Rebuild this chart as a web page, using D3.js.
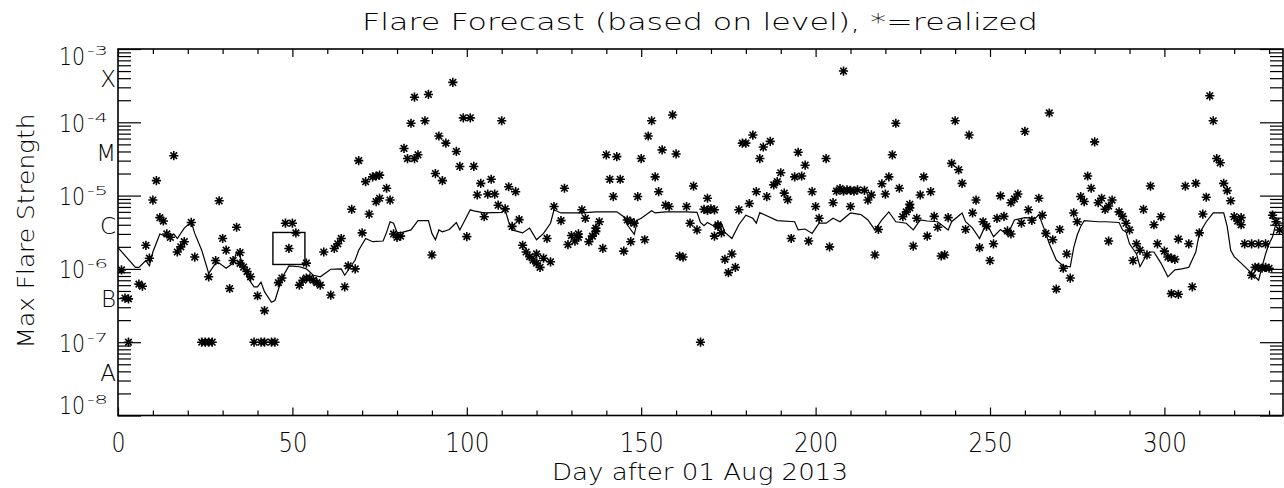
<!DOCTYPE html>
<html><head><meta charset="utf-8">
<script src="https://cdn.jsdelivr.net/npm/d3@7"></script>
<style>
html,body{margin:0;padding:0;background:#fff;}
svg{display:block;}
text{font-family:"DejaVu Sans",sans-serif;fill:#000;font-weight:200;}
</style></head><body>
<svg id="chart" width="1284" height="488"></svg>
<script>
// ---------- data ----------
const titleText = "Flare Forecast (based on level), *=realized";
const xLabelText = "Day after 01 Aug 2013";
const yLabelText = "Max Flare Strength";
const xTickValues = [0, 50, 100, 150, 200, 250, 300];
const yDecades = [1e-8, 1e-7, 1e-6, 1e-5, 1e-4, 1e-3];
const yExponents = ["-8", "-7", "-6", "-5", "-4", "-3"];
const classLabels = ["A", "B", "C", "M", "X"];
const classFlux = [3.9e-8, 3.9e-7, 3.9e-6, 3.9e-5, 3.9e-4];
const markDay = [49];
const markFlux = [1.9e-6];

// realized daily max flare strength: [day, flux]
const realized = [
[1,9.7e-7],[2,4.0e-7],[3,3.9e-7],[3,1e-7],[6,6.2e-7],[7,5.8e-7],[8,2.1e-6],[9,1.4e-6],[10,8.7e-6],[11,1.6e-5],
[12,5.0e-6],[13,4.5e-6],[14,3.0e-6],[15,2.7e-6],[16,3.5e-5],[17,1.7e-6],[18,2.0e-6],[19,2.35e-6],[21,4.3e-6],[22,1.45e-6],
[24,1e-7],[25,1e-7],[26,7.8e-7],[26,1e-7],[27,1e-7],[28,1.3e-6],[29,8.5e-6],[30,2.6e-6],[31,1.8e-6],[32,5.4e-7],
[33,1.3e-6],[34,3.7e-6],[35,1.67e-6],[35,1.19e-6],[36,1.06e-6],[37,9.2e-7],[38,7.8e-7],[39,1e-7],[40,4.3e-7],[41,1e-7],
[42,1e-7],[42,2.7e-7],[44,1e-7],[45,1e-7],[46,6.5e-7],[47,7.5e-7],[48,4.2e-6],[49,1.9e-6],[50,4.2e-6],[51,3.1e-6],
[52,6.0e-7],[53,7.0e-7],[54,1.2e-6],[54,7.5e-7],[55,7.5e-7],[56,7.0e-7],[57,6.5e-7],[58,6.0e-7],[59,1.7e-6],[61,4.4e-7],
[62,1.9e-6],[63,2.2e-6],[64,2.6e-6],[65,5.7e-7],[66,1.1e-6],[67,6.5e-6],[68,1.0e-6],[69,3.0e-5],[70,3.1e-6],[71,1.55e-5],
[72,5.6e-6],[73,1.8e-5],[74,8.3e-6],[74,1.85e-5],[75,1.9e-5],[75,9.2e-6],[77,1.26e-5],[78,8.7e-6],[79,3.0e-6],[80,2.7e-6],
[81,2.8e-6],[82,4.4e-5],[83,3.2e-5],[84,9.7e-5],[85,2.2e-4],[85,3.2e-5],[86,3.6e-5],[88,1.05e-4],[89,2.4e-4],[90,1.55e-6],
[91,2.0e-5],[92,6.5e-5],[93,1.6e-5],[94,5.2e-5],[96,3.5e-4],[97,4.0e-5],[98,2.5e-5],[99,1.15e-4],[100,2.76e-6],[101,1.15e-4],
[102,2.5e-5],[103,1.02e-5],[104,1.47e-5],[105,5.15e-6],[106,1.05e-5],[107,1.67e-5],[108,1.05e-5],[109,7.4e-6],[110,1.05e-4],[111,6.6e-6],
[112,1.32e-5],[113,3.8e-6],[114,1.13e-5],[115,4.7e-6],[116,2.1e-6],[117,1.7e-6],[118,1.47e-6],[119,1.32e-6],[120,1.2e-6],[120,1.6e-6],
[121,1.05e-6],[122,1.4e-6],[123,2.6e-6],[124,1.25e-6],[125,7.1e-6],[127,4.55e-6],[128,1.26e-5],[129,2.15e-6],[130,2.85e-6],[131,2.4e-6],
[132,2.7e-6],[132,3.0e-6],[133,6.4e-6],[134,4.9e-6],[135,2.35e-6],[136,2.8e-6],[137,3.25e-6],[137,3.6e-6],[138,4.4e-6],[139,1.9e-6],
[140,3.6e-5],[141,1.67e-5],[142,9.7e-6],[143,3.4e-5],[144,1.67e-5],[145,1.75e-6],[146,4.65e-6],[147,2.35e-6],[147,4.4e-6],[148,4.2e-6],
[149,9.7e-6],[150,3.2e-5],[151,2.5e-6],[152,6.5e-5],[153,1.05e-4],[154,1.8e-5],[155,1.13e-5],[156,4.2e-5],[157,7.4e-6],[158,7.1e-6],
[159,1.26e-4],[160,3.7e-5],[161,1.5e-6],[162,1.45e-6],[163,7.1e-6],[164,4.2e-6],[165,1.35e-5],[166,3.4e-6],[167,1e-7],[168,6.5e-6],
[169,9.2e-6],[169,6.3e-6],[170,6.6e-6],[171,6.4e-6],[171,2.8e-6],[172,3.8e-6],[172,4.0e-6],[173,3.1e-6],[174,1.35e-6],[175,8.9e-7],
[176,1.6e-6],[177,1.05e-6],[178,6.4e-6],[179,5.2e-5],[180,5.2e-5],[181,7.8e-6],[182,6.7e-5],[183,1.13e-5],[184,3.2e-5],[185,4.6e-5],
[186,9.7e-6],[187,5.5e-5],[188,1.4e-5],[189,1.55e-5],[190,2.05e-5],[191,1.08e-5],[192,8.8e-6],[193,2.6e-6],[194,1.8e-5],[195,3.9e-5],
[196,1.85e-5],[197,2.6e-5],[198,2.4e-6],[199,1.13e-5],[200,7.1e-6],[201,4.9e-6],[203,3.2e-5],[204,2.0e-6],[205,8.0e-6],[206,1.15e-5],
[207,1.25e-5],[208,5.0e-4],[208,1.15e-5],[209,1.2e-5],[210,7.1e-6],[210,1.18e-5],[211,1.15e-5],[212,1.2e-5],[214,1.18e-5],[215,8.7e-6],
[216,1.02e-5],[217,1.55e-6],[218,3.45e-6],[219,1.45e-5],[220,1.05e-5],[221,1.8e-5],[222,3.6e-5],[223,9.7e-5],[224,1.26e-5],[225,5.15e-6],
[226,6.0e-6],[227,6.8e-6],[227,7.6e-6],[228,2.05e-6],[229,4.9e-6],[230,1.02e-5],[231,1.8e-5],[232,2.8e-6],[233,1.13e-5],[234,5.2e-6],
[235,3.7e-6],[236,1.5e-6],[237,1.55e-6],[238,5.0e-6],[239,2.75e-5],[240,1.05e-4],[241,2.25e-5],[242,1.47e-5],[243,3.45e-6],[244,6.7e-5],
[245,5.8e-6],[246,8.7e-6],[247,1.95e-6],[248,4.4e-6],[249,3.8e-6],[250,1.3e-6],[251,2.2e-6],[252,4.9e-6],[253,9.9e-6],[254,5.2e-6],
[255,3.3e-6],[256,3.0e-6],[256,8.0e-6],[257,9.0e-6],[258,1.05e-5],[259,4.2e-6],[260,7.5e-5],[261,6.4e-6],[262,4.6e-6],[264,9.2e-6],
[265,5.4e-6],[266,3.05e-6],[267,1.34e-4],[268,2.5e-6],[269,5.3e-7],[270,3.45e-6],[271,1.02e-6],[272,1.6e-6],[273,7.5e-7],[274,5.8e-6],
[275,4.4e-6],[276,9.7e-6],[277,8.3e-6],[278,1.85e-5],[279,1.26e-5],[280,5.4e-5],[281,8.0e-6],[282,9.2e-6],[283,6.5e-6],[284,2.4e-6],
[284,7.2e-6],[285,8.7e-6],[287,6.0e-6],[288,5.2e-6],[289,4.2e-6],[290,3.4e-6],[291,1.3e-6],[292,2.2e-6],[293,1.8e-6],[294,6.5e-6],
[295,1.55e-6],[296,1.35e-5],[297,4.0e-6],[298,2.2e-6],[299,5.15e-6],[300,1.75e-6],[301,1.45e-6],[302,1.4e-6],[302,4.6e-7],[303,1.35e-6],
[304,4.5e-7],[304,2.55e-6],[306,1.35e-5],[307,2.2e-6],[308,5.7e-7],[309,1.47e-5],[310,3.1e-6],[311,5.6e-6],[312,9.5e-6],[313,2.3e-4],
[314,1.05e-4],[315,3.2e-5],[316,2.8e-5],[317,1.47e-5],[318,1.17e-5],[319,8.5e-6],[320,5.15e-6],[321,4.5e-6],[322,4.0e-6],[322,5.0e-6],
[323,2.2e-6],[325,2.2e-6],[325,8.2e-7],[326,1.05e-6],[327,2.2e-6],[327,1.05e-6],[328,1.02e-6],[329,2.2e-6],[329,1.05e-6],[330,1.02e-6],
[331,5.4e-6],[332,4.4e-6],[333,3.4e-6]
];

// forecast level: [day, flux]
const forecast = [
[0,1.95e-6],[5,1.05e-6],[6,1.05e-6],[8,1.3e-6],[9,1.1e-6],[10,1.7e-6],[12,3.0e-6],[14,2.75e-6],[16,3.0e-6],[17,2.6e-6],
[19,3.6e-6],[21,4.4e-6],[22,3.05e-6],[24,1.8e-6],[26,8.7e-7],[28,1.2e-6],[29,1.2e-6],[31,1.02e-6],[33,1.2e-6],[34,1.7e-6],
[35,1.47e-6],[37,7.8e-7],[39,5.7e-7],[40,5.7e-7],[41,6.6e-7],[42,4.9e-7],[44,3.5e-7],[45,3.7e-7],[47,7.5e-7],[49,1.1e-6],
[52,1.07e-6],[54,1.0e-6],[56,8.2e-7],[58,7.8e-7],[61,9.9e-7],[64,1.0e-6],[65,8.2e-7],[68,1.32e-6],[69,1.8e-6],[71,2.6e-6],
[73,2.35e-6],[76,2.4e-6],[77,3.15e-6],[78,4.4e-6],[79,4.2e-6],[80,3.15e-6],[81,3.1e-6],[84,3.4e-6],[86,4.55e-6],[89,4.55e-6],
[90,3.05e-6],[91,2.5e-6],[92,3.4e-6],[93,3.2e-6],[95,3.45e-6],[97,4.3e-6],[98,3.4e-6],[101,6.4e-6],[102,6.2e-6],[105,5.8e-6],
[110,5.9e-6],[111,6.4e-6],[112,4.4e-6],[113,3.4e-6],[116,3.1e-6],[118,3.6e-6],[120,2.5e-6],[122,3.05e-6],[124,4.2e-6],[125,6.4e-6],
[127,5.8e-6],[133,5.8e-6],[137,6.0e-6],[143,6.0e-6],[145,5.15e-6],[146,4.0e-6],[148,2.95e-6],[149,4.65e-6],[150,4.9e-6],[153,6.2e-6],
[154,5.8e-6],[157,6.0e-6],[163,6.0e-6],[166,5.9e-6],[167,4.3e-6],[168,3.9e-6],[169,4.3e-6],[171,3.8e-6],[173,4.2e-6],[174,3.15e-6],
[176,2.6e-6],[178,4.0e-6],[180,5.4e-6],[182,4.9e-6],[183,4.2e-6],[184,5.85e-6],[189,4.55e-6],[194,4.4e-6],[195,3.4e-6],[197,3.5e-6],
[199,3.05e-6],[201,4.2e-6],[203,4.2e-6],[205,4.9e-6],[207,4.4e-6],[210,5.8e-6],[213,5.5e-6],[215,4.65e-6],[217,3.4e-6],[219,4.65e-6],
[221,6.0e-6],[223,4.4e-6],[226,4.2e-6],[228,3.4e-6],[230,4.65e-6],[232,4.5e-6],[235,4.4e-6],[238,3.4e-6],[239,4.4e-6],[242,5.8e-6],
[243,4.4e-6],[245,3.6e-6],[247,2.6e-6],[249,4.2e-6],[251,2.75e-6],[253,3.45e-6],[255,2.9e-6],[257,4.65e-6],[260,5.0e-6],[263,4.9e-6],
[264,5.5e-6],[266,3.05e-6],[267,2.2e-6],[269,1.32e-6],[271,1.1e-6],[273,1.07e-6],[274,1.95e-6],[275,2.9e-6],[276,3.8e-6],[277,4.55e-6],
[281,4.4e-6],[283,4.4e-6],[287,4.3e-6],[288,3.4e-6],[289,3.2e-6],[290,2.2e-6],[292,1.6e-6],[293,1.07e-6],[295,1.6e-6],[296,1.7e-6],
[297,1.7e-6],[299,1.2e-6],[301,7.8e-7],[303,9.7e-7],[305,1.0e-6],[307,1.05e-6],[309,1.7e-6],[310,3.05e-6],[312,4.4e-6],[314,5.8e-6],
[317,5.8e-6],[318,3.8e-6],[319,1.8e-6],[320,1.47e-6],[322,1.2e-6],[324,9.7e-7],[327,7.0e-7],[328,1.07e-6],[329,1.6e-6],[330,2.2e-6],
[331,2.75e-6],[332,4.2e-6],[334,4.2e-6]
];

// ---------- chart ----------
const svg = d3.select("#chart");
const L = 118, R = 1283, T = 49, B = 415.5;
const x = d3.scaleLinear().domain([0, 334]).range([L, R]);
const y = d3.scaleLog().domain([1e-8, 1e-3]).range([B, T]);

const minorX = d3.range(0, 335, 10).filter(d => d % 50 !== 0);
const minorY = [];
yDecades.slice(0, -1).forEach(dv => { for (let m = 2; m <= 9; m++) minorY.push(m * dv); });

function styleAxis(g) {
  g.select(".domain").remove();
  g.selectAll(".tick line").attr("stroke", "#000").attr("stroke-width", 1.2);
}

// x axes (ticks inward)
svg.append("g").attr("transform", `translate(0,${B})`)
  .call(d3.axisBottom(x).tickValues(xTickValues).tickSize(-8).tickSizeOuter(0).tickFormat(d3.format("d")))
  .call(styleAxis)
  .call(g => g.selectAll(".tick text")
    .attr("y", 36.2).attr("dy", null)
    .style("font-size", "26px")
    .attr("textLength", d => String(d).length * 15 - 1)
    .attr("lengthAdjust", "spacingAndGlyphs"));
svg.append("g").attr("transform", `translate(0,${B})`)
  .call(d3.axisBottom(x).tickValues(minorX).tickSize(-5).tickSizeOuter(0).tickFormat(""))
  .call(styleAxis);
svg.append("g").attr("transform", `translate(0,${T})`)
  .call(d3.axisTop(x).tickValues(xTickValues).tickSize(-8).tickSizeOuter(0).tickFormat(""))
  .call(styleAxis);
svg.append("g").attr("transform", `translate(0,${T})`)
  .call(d3.axisTop(x).tickValues(minorX).tickSize(-5).tickSizeOuter(0).tickFormat(""))
  .call(styleAxis);

// y axes
svg.append("g").attr("transform", `translate(${L},0)`)
  .call(d3.axisLeft(y).tickValues(yDecades).tickSize(-23).tickSizeOuter(0).tickFormat(""))
  .call(styleAxis);
svg.append("g").attr("transform", `translate(${L},0)`)
  .call(d3.axisLeft(y).tickValues(minorY).tickSize(-13).tickSizeOuter(0).tickFormat(""))
  .call(styleAxis);
svg.append("g").attr("transform", `translate(${R},0)`)
  .call(d3.axisRight(y).tickValues(yDecades).tickSize(-23).tickSizeOuter(0).tickFormat(""))
  .call(styleAxis);
svg.append("g").attr("transform", `translate(${R},0)`)
  .call(d3.axisRight(y).tickValues(minorY).tickSize(-13).tickSizeOuter(0).tickFormat(""))
  .call(styleAxis);

// y tick labels 10^n
const ylab = svg.append("g");
yDecades.forEach((v, i) => {
  const c = Math.max(56, Math.min(405, y(v) + 1));
  const t = ylab.append("text").attr("x", 59).attr("y", c + 8.5);
  t.append("tspan").style("font-size", "24px")
    .attr("textLength", 26).attr("lengthAdjust", "spacingAndGlyphs").text("10");
  t.append("tspan").attr("x", 87).attr("y", c - 1.5).style("font-size", "13px")
    .attr("textLength", 21).attr("lengthAdjust", "spacingAndGlyphs").text(yExponents[i]);
});

// class letters
svg.append("g").selectAll("text").data(classLabels).join("text")
  .attr("x", 116).attr("y", (d, i) => y(classFlux[i]) + 8.5)
  .attr("text-anchor", "end").style("font-size", "23px")
  .text(d => d);

// frame
svg.append("rect").attr("x", L).attr("y", T).attr("width", R - L).attr("height", B - T)
  .attr("fill", "none").attr("stroke", "#000").attr("stroke-width", 1.6);

// clip
svg.append("clipPath").attr("id", "clip").append("rect")
  .attr("x", L).attr("y", T).attr("width", R - L).attr("height", B - T);
const plot = svg.append("g").attr("clip-path", "url(#clip)");

// forecast line
plot.append("path").datum(forecast)
  .attr("fill", "none").attr("stroke", "#000").attr("stroke-width", 1.2)
  .attr("d", d3.line().x(d => x(d[0])).y(d => y(d[1])));

// realized asterisks
const star = "M-4.6,0H4.6M0,-4.6V4.6M-3.3,-3.3L3.3,3.3M-3.3,3.3L3.3,-3.3";
plot.append("g").selectAll("path").data(realized).join("path")
  .attr("transform", d => `translate(${x(d[0])},${y(d[1])})`)
  .attr("d", star).attr("fill", "none").attr("stroke", "#000").attr("stroke-width", 1.6);

// marker box
plot.append("g").selectAll("rect").data(markDay).join("rect")
  .attr("x", (d, i) => x(d) - 16).attr("y", (d, i) => y(markFlux[i]) - 16)
  .attr("width", 32).attr("height", 32)
  .attr("fill", "none").attr("stroke", "#000").attr("stroke-width", 1.4);

// title & labels
svg.append("text").attr("x", 700).attr("y", 30).attr("text-anchor", "middle")
  .style("font-size", "23px").attr("textLength", 676).attr("lengthAdjust", "spacingAndGlyphs")
  .text(titleText);
svg.append("text").attr("x", 700).attr("y", 480).attr("text-anchor", "middle")
  .style("font-size", "23px").attr("textLength", 296).attr("lengthAdjust", "spacingAndGlyphs")
  .text(xLabelText);
svg.append("text").attr("transform", "translate(34,231) rotate(-90)").attr("text-anchor", "middle")
  .style("font-size", "23px").attr("textLength", 235).attr("lengthAdjust", "spacingAndGlyphs")
  .text(yLabelText);
</script>
</body></html>
